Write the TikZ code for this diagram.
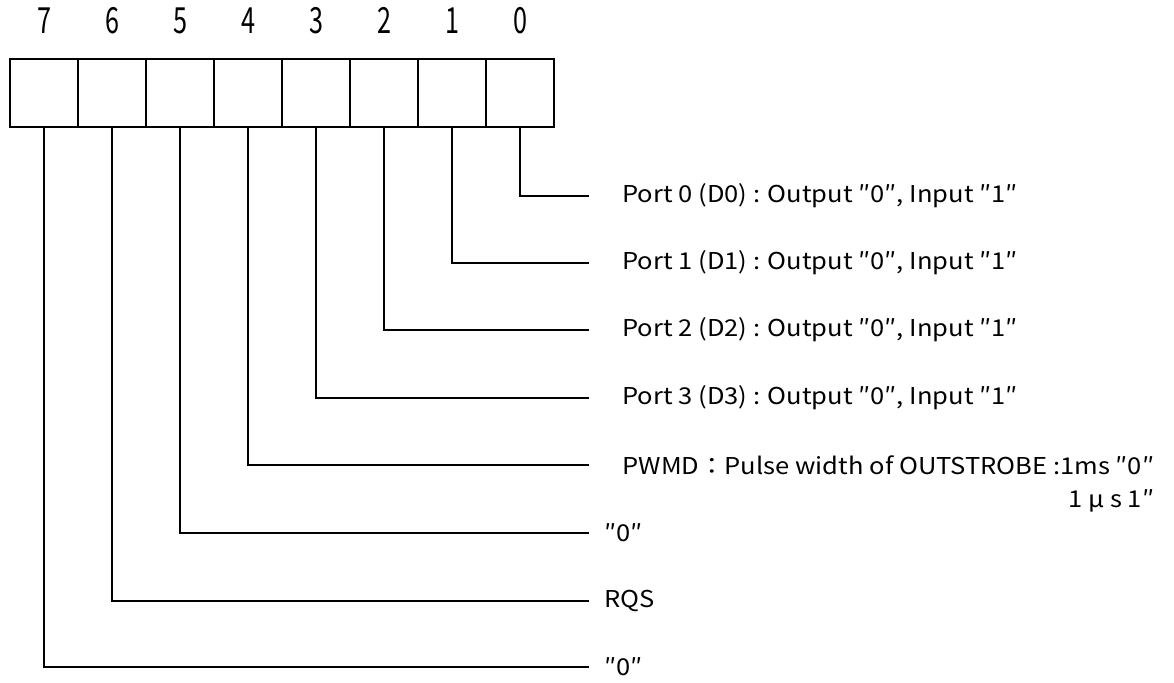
\documentclass[tikz,border=0pt]{standalone}
\usepackage{fontspec}
\setmainfont{Noto Sans CJK JP}
\newfontfamily\bitfont[FakeStretch=0.7]{Noto Sans CJK JP}
\newfontfamily\descfont[FakeStretch=1.1]{Noto Sans CJK JP}
\usetikzlibrary{positioning}

\begin{document}
\begin{tikzpicture}[
    x=0.5pt, y=-0.5pt,
    line width=0.8pt,
    node distance = 0pt,
    cell/.style = {draw, rectangle, minimum width=34pt, minimum height=34pt, inner sep=0pt, outer sep=0pt},
    bitnum/.style = {font=\bitfont\fontsize{18}{20}\selectfont},
    desc/.style = {font=\descfont\fontsize{11.6}{13}\selectfont, anchor=west},
  ]
    \useasboundingbox (0,0) rectangle (1174,682);

    % register cells, bit 7 on the left
    \node[cell] (c7) at (44,93) {};
    \node[cell] (c6) [right=of c7] {};
    \node[cell] (c5) [right=of c6] {};
    \node[cell] (c4) [right=of c5] {};
    \node[cell] (c3) [right=of c4] {};
    \node[cell] (c2) [right=of c3] {};
    \node[cell] (c1) [right=of c2] {};
    \node[cell] (c0) [right=of c1] {};

    \node[bitnum] (n7) [above=9pt of c7] {7};
    \node[bitnum] (n6) [above=9pt of c6] {6};
    \node[bitnum] (n5) [above=9pt of c5] {5};
    \node[bitnum] (n4) [above=9pt of c4] {4};
    \node[bitnum] (n3) [above=9pt of c3] {3};
    \node[bitnum] (n2) [above=9pt of c2] {2};
    \node[bitnum] (n1) [above=9pt of c1] {1};
    \node[bitnum] (n0) [above=9pt of c0] {0};

    % ends of the leader lines
    \coordinate (e0) at (589,196);
    \coordinate (e1) at (589,263);
    \coordinate (e2) at (589,330);
    \coordinate (e3) at (589,398);
    \coordinate (e4) at (589,465);
    \coordinate (e5) at (589,533);
    \coordinate (e6) at (589,601);
    \coordinate (e7) at (589,667);

    \node[desc] (t0) [right=13pt of e0] {Port 0 (D0) : Output ″0″, Input ″1″};
    \node[desc] (t1) [right=13pt of e1] {Port 1 (D1) : Output ″0″, Input ″1″};
    \node[desc] (t2) [right=13pt of e2] {Port 2 (D2) : Output ″0″, Input ″1″};
    \node[desc] (t3) [right=13pt of e3] {Port 3 (D3) : Output ″0″, Input ″1″};
    \node[desc] (t4) [right=13pt of e4] {PWMD：Pulse width of OUTSTROBE :1ms ″0″};
    \node[desc] (t4b) [anchor=north east] at (t4.south east) {1 μ s 1″};
    \node[desc] (t5) [right=4pt of e5] {″0″};
    \node[desc] (t6) [right=4pt of e6] {RQS};
    \node[desc] (t7) [right=4pt of e7] {″0″};

    \draw (c0.south) |- (e0);
    \draw (c1.south) |- (e1);
    \draw (c2.south) |- (e2);
    \draw (c3.south) |- (e3);
    \draw (c4.south) |- (e4);
    \draw (c5.south) |- (e5);
    \draw (c6.south) |- (e6);
    \draw (c7.south) |- (e7);
\end{tikzpicture}
\end{document}
